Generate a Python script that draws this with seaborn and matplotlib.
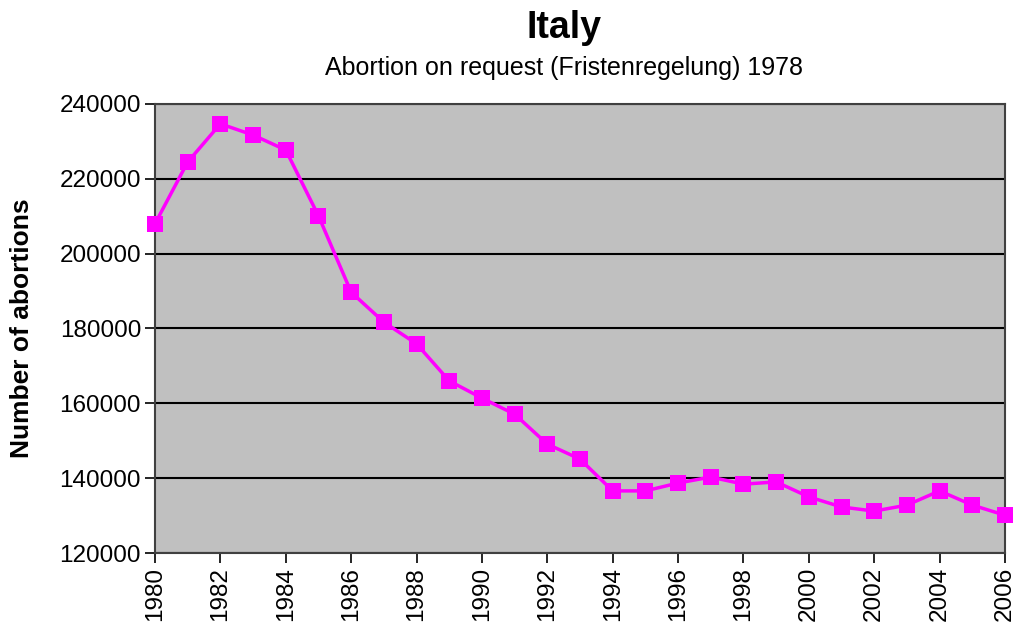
import numpy as np
import pandas as pd
import matplotlib.pyplot as plt
import seaborn as sns

# values
years = list(range(1980, 2007))
abortions = [208000, 224500, 234700, 231700, 227700, 210100, 189700, 181700,
             175900, 166000, 161400, 157100, 149100, 145100, 136600, 136600,
             138700, 140300, 138400, 139000, 135000, 132300, 131200, 132800,
             136600, 132800, 130100]
y_ticks = [120000, 140000, 160000, 180000, 200000, 220000, 240000]
x_ticks = list(range(1980, 2007, 2))

df = pd.DataFrame({'year': years, 'abortions': abortions})

sns.set_style('white')
plt.rcParams['font.family'] = ['Liberation Sans', 'DejaVu Sans']
plt.rcParams['text.color'] = 'black'
plt.rcParams['axes.labelcolor'] = 'black'
plt.rcParams['xtick.color'] = 'black'
plt.rcParams['ytick.color'] = 'black'

fig = plt.figure(figsize=(10.17, 6.28), dpi=100)
ax = fig.add_axes([155 / 1017, 1 - 553 / 628, 850 / 1017, 449 / 628])
ax.set_facecolor('#C0C0C0')

sns.lineplot(data=df, x='year', y='abortions', ax=ax, color='#FF00FF',
             marker='s', markersize=11, markeredgewidth=0, linewidth=2.5,
             zorder=3, clip_on=False)

ax.set_xlim(1980, 2006)
ax.set_ylim(120000, 240000)
ax.set_xticks(x_ticks)
ax.set_xticklabels([str(x) for x in x_ticks], rotation=90, fontsize=17.5)
ax.set_yticks(y_ticks)
ax.set_yticklabels([str(y) for y in y_ticks], fontsize=17.5)
ax.yaxis.grid(True, color='black', linewidth=1.5)
ax.xaxis.grid(False)
ax.set_axisbelow(True)
ax.tick_params(axis='both', direction='out', length=7, width=1.2, color='black',
               left=True, bottom=True, pad=3)
for side in ax.spines.values():
    side.set_color('#404040')
    side.set_linewidth(1.5)

ax.set_xlabel('')
ax.set_ylabel('Number of abortions', fontsize=19, fontweight='bold')
ax.yaxis.set_label_coords(-(155 - 34) / 850, 0.5)

fig.text(0.555, 1 - 28 / 628, 'Italy', ha='center', va='center',
         fontsize=27, fontweight='bold')
fig.text(0.555, 1 - 68 / 628, 'Abortion on request (Fristenregelung) 1978',
         ha='center', va='center', fontsize=18)

fig.savefig('out.png', dpi=100)
